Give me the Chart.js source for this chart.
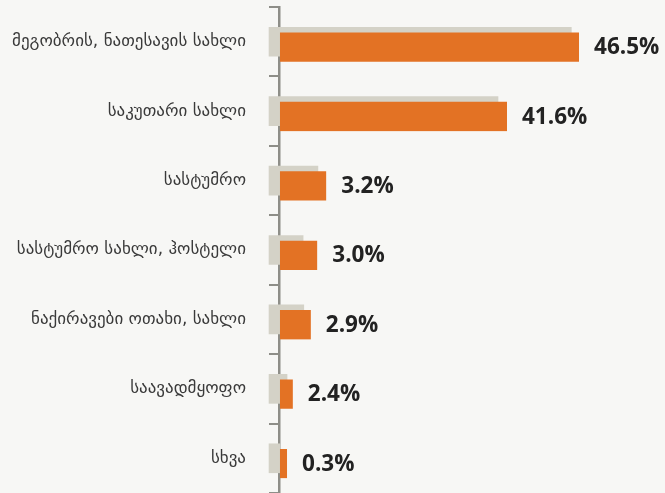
<!DOCTYPE html>
<html>
<head>
<meta charset="utf-8">
<script src="https://cdn.jsdelivr.net/npm/chart.js@4.4.1/dist/chart.umd.min.js"></script>
<style>
  html, body { margin: 0; padding: 0; background: #f7f7f5; }
  #wrap { width: 665px; height: 493px; position: relative; }
</style>
</head>
<body>
<div id="wrap"><canvas id="barChart"></canvas></div>
<script>
// categories (top to bottom)
const categories = [
  "მეგობრის, ნათესავის სახლი",
  "საკუთარი სახლი",
  "სასტუმრო",
  "სასტუმრო სახლი, ჰოსტელი",
  "ნაქირავები ოთახი, სახლი",
  "საავადმყოფო",
  "სხვა"
];

// printed values next to the orange bars
const valueLabels = ["46.5%", "41.6%", "3.2%", "3.0%", "2.9%", "2.4%", "0.3%"];

// bar lengths as drawn (same units as the axis)
const currentLengths = [46.5, 35.3, 7.2, 5.8, 4.8, 2.0, 1.1];
const previousLengths = [45.3, 33.9, 5.9, 3.6, 3.7, 1.1, 0.0];
const previousStart = -1.7;

const ORANGE = "#e37224";
const GREY_BAR = "#d4d2c7";
const AXIS = "#8e8e88";

// draws the bold percentages at the end of each orange bar
const valueLabelPlugin = {
  id: "valueLabels",
  afterDatasetsDraw(chart) {
    const meta = chart.getDatasetMeta(0);
    const ctx = chart.ctx;
    ctx.save();
    ctx.font = "bold 22.5px 'Open Sans', 'Noto Sans', sans-serif";
    ctx.fillStyle = "#222222";
    ctx.textAlign = "left";
    ctx.textBaseline = "middle";
    meta.data.forEach((bar, i) => {
      ctx.fillText(valueLabels[i], bar.x + 15, bar.y + 6);
    });
    ctx.restore();
  }
};

new Chart(document.getElementById("barChart"), {
  type: "bar",
  data: {
    labels: categories,
    datasets: [
      {
        data: currentLengths,
        backgroundColor: ORANGE,
        borderColor: "rgba(0,0,0,0)",
        borderWidth: { top: 11, right: 0, bottom: 0, left: 0 },
        barThickness: 40,
        grouped: false,
        order: 0
      },
      {
        data: previousLengths.map((v) => [previousStart, v]),
        backgroundColor: GREY_BAR,
        borderWidth: 0,
        barThickness: 29,
        grouped: false,
        clip: false,
        order: 1
      }
    ]
  },
  options: {
    indexAxis: "y",
    responsive: true,
    maintainAspectRatio: false,
    animation: false,
    layout: { padding: { top: 7, right: 12, bottom: 0, left: 0 } },
    scales: {
      x: {
        display: false,
        min: -0.15,
        max: 58
      },
      y: {
        z: 1,
        border: { display: true, color: AXIS, width: 2.5 },
        grid: {
          drawOnChartArea: false,
          drawTicks: true,
          tickLength: 10,
          color: AXIS,
          lineWidth: 2
        },
        ticks: {
          padding: 23,
          color: "#3a3a3a",
          font: { family: "'DejaVu Sans', sans-serif", size: 17 }
        },
        afterFit(scale) {
          scale.width = 279;
          scale.paddingTop = 0;
          scale.paddingBottom = 0;
        }
      }
    },
    plugins: {
      legend: { display: false },
      tooltip: { enabled: false }
    }
  },
  plugins: [valueLabelPlugin]
});
</script>
</body>
</html>
